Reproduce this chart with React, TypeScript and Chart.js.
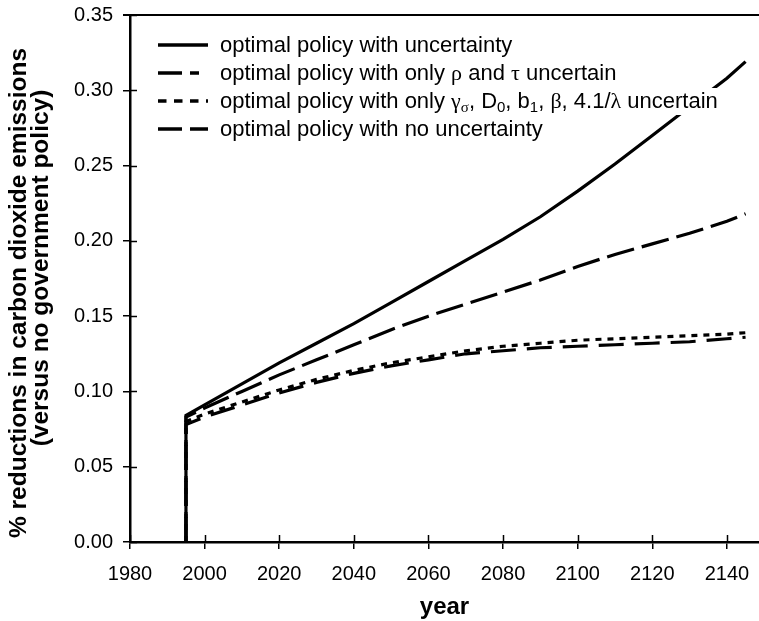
import React, { useEffect, useRef } from 'react';
import { Chart, registerables } from 'chart.js';

Chart.register(...registerables);

// ---- data ----
const years = [1995, 1995, 2000, 2010, 2020, 2030, 2040, 2050, 2060, 2070, 2080, 2090, 2100, 2110, 2120, 2130, 2140, 2145];
const withUncertainty = [0, 0.084, 0.091, 0.105, 0.119, 0.132, 0.145, 0.159, 0.173, 0.187, 0.201, 0.216, 0.233, 0.251, 0.270, 0.289, 0.308, 0.319];
const onlyRhoTau = [0, 0.083, 0.089, 0.100, 0.111, 0.121, 0.131, 0.141, 0.150, 0.158, 0.166, 0.174, 0.183, 0.191, 0.198, 0.205, 0.213, 0.218];
const onlyGammaEtc = [0, 0.080, 0.085, 0.093, 0.101, 0.108, 0.114, 0.119, 0.123, 0.127, 0.130, 0.132, 0.134, 0.135, 0.136, 0.137, 0.138, 0.139];
const noUncertainty = [0, 0.078, 0.083, 0.091, 0.099, 0.106, 0.112, 0.117, 0.121, 0.125, 0.127, 0.129, 0.130, 0.131, 0.132, 0.133, 0.135, 0.136];

// "_" marks the next character as a subscript
const seriesLabels = [
  'optimal policy with uncertainty',
  'optimal policy with only ρ and τ uncertain',
  'optimal policy with only γ_σ, D_0, b_1, β, 4.1/λ uncertain',
  'optimal policy with no uncertainty',
];
const xTicks = [1980, 2000, 2020, 2040, 2060, 2080, 2100, 2120, 2140];
const yTicks = [0, 0.05, 0.1, 0.15, 0.2, 0.25, 0.3, 0.35];
const xTitle = 'year';
const yTitle = ['% reductions in carbon dioxide emissions', '(versus no government policy)'];

const SANS = '"Liberation Sans", Arial, Helvetica, sans-serif';
const SERIF = '"Liberation Serif", "Times New Roman", serif';

const seriesDash: number[][] = [[], [28, 8], [6, 6], [25, 11]];
const legendDash: number[][] = [[], [24, 8, 9, 100], [8.5, 7.5], [24, 8]];

type Run = { t: string; sub: boolean; greek: boolean };
function parseRich(s: string): Run[] {
  const runs: Run[] = [];
  for (let i = 0; i < s.length; i++) {
    let ch = s[i];
    let sub = false;
    if (ch === '_' && i + 1 < s.length) { sub = true; i++; ch = s[i]; }
    const greek = /[\u0370-\u03ff]/.test(ch);
    const last = runs[runs.length - 1];
    if (last && last.sub === sub && last.greek === greek) last.t += ch;
    else runs.push({ t: ch, sub, greek });
  }
  return runs;
}
function runFont(r: Run, size: number) {
  const s = r.sub ? Math.round(size * 0.66) : size;
  return `${s}px ${r.greek ? SERIF : SANS}`;
}

const overlayPlugin = {
  id: 'overlay',
  afterDraw(chart: any) {
    const { ctx, chartArea: a, scales } = chart;
    const x = scales.x, y = scales.y;
    ctx.save();
    ctx.strokeStyle = '#000';
    // top frame line
    ctx.lineWidth = 2;
    ctx.beginPath();
    ctx.moveTo(a.left - 7, a.top);
    ctx.lineTo(a.right, a.top);
    ctx.stroke();
    // inner halves of tick marks
    ctx.lineWidth = 1.5;
    ctx.beginPath();
    xTicks.forEach((v) => {
      const px = Math.round(x.getPixelForValue(v)) + 0.5;
      ctx.moveTo(px, a.bottom);
      ctx.lineTo(px, a.bottom - 7);
    });
    yTicks.forEach((v) => {
      const py = Math.round(y.getPixelForValue(v)) + 0.5;
      ctx.moveTo(a.left, py);
      ctx.lineTo(a.left + 7, py);
    });
    ctx.stroke();

    // y axis title (two rotated lines)
    ctx.fillStyle = '#000';
    ctx.font = `bold 24.5px ${SANS}`;
    ctx.textAlign = 'center';
    ctx.textBaseline = 'middle';
    const titlePos = [[19, 293], [41, 268]];
    yTitle.forEach((line, i) => {
      ctx.save();
      ctx.translate(titlePos[i][0], titlePos[i][1]);
      ctx.rotate(-Math.PI / 2);
      ctx.fillText(line, 0, 0);
      ctx.restore();
    });

    // legend
    const size = 22;
    const rowY = [45, 73, 101, 129];
    const lx0 = 158, lx1 = 208, tx = 220;
    seriesLabels.forEach((lab, i) => {
      const runs = parseRich(lab);
      let w = 0;
      runs.forEach((r) => { ctx.font = runFont(r, size); w += ctx.measureText(r.t).width; });
      ctx.fillStyle = '#fff';
      ctx.fillRect(tx - 2, rowY[i] - 13, w + 4, 27);
      ctx.fillStyle = '#000';
      ctx.textBaseline = 'middle';
      ctx.textAlign = 'left';
      let cx = tx;
      runs.forEach((r) => {
        ctx.font = runFont(r, size);
        ctx.fillText(r.t, cx, rowY[i] + 1 + (r.sub ? 6 : 0));
        cx += ctx.measureText(r.t).width;
      });
      ctx.lineWidth = 3.5;
      ctx.setLineDash(legendDash[i]);
      ctx.beginPath();
      ctx.moveTo(lx0, rowY[i]);
      ctx.lineTo(lx1, rowY[i]);
      ctx.stroke();
      ctx.setLineDash([]);
    });
    ctx.restore();
  },
};

export default function App() {
  const ref = useRef<HTMLCanvasElement | null>(null);
  useEffect(() => {
    if (!ref.current) return;
    const seriesValues = [withUncertainty, onlyRhoTau, onlyGammaEtc, noUncertainty];
    const chart = new Chart(ref.current, {
      type: 'line',
      data: {
        datasets: seriesValues.map((vals, i) => ({
          label: seriesLabels[i].replace(/_/g, ''),
          data: years.map((yr, k) => ({ x: yr, y: vals[k] })),
          borderColor: '#000',
          borderWidth: 3.2,
          borderDash: seriesDash[i],
          pointRadius: 0,
          tension: 0,
          fill: false,
        })),
      },
      options: {
        responsive: false,
        animation: false,
        devicePixelRatio: 1,
        layout: { padding: { top: 15, left: 0, right: 0, bottom: 0 } },
        plugins: {
          legend: { display: false },
          tooltip: { enabled: false },
        },
        scales: {
          x: {
            type: 'linear',
            min: 1980,
            max: 2148.6,
            afterBuildTicks: (s: any) => { s.ticks = xTicks.map((v) => ({ value: v })); },
            afterFit: (s: any) => { s.height = 79; s.paddingLeft = 0; s.paddingRight = 0; },
            ticks: {
              font: { family: SANS, size: 20 },
              color: '#000',
              padding: 13.5,
              maxRotation: 0,
              autoSkip: false,
              callback: (v: any) => String(v),
            },
            grid: { drawOnChartArea: false, tickLength: 7, color: '#000', lineWidth: 1.5 },
            border: { color: '#000', width: 2.5 },
            title: {
              display: true,
              text: xTitle,
              color: '#000',
              font: { family: SANS, size: 24, weight: 'bold', lineHeight: 1 },
              padding: { top: 0, bottom: 2 },
            },
          },
          y: {
            type: 'linear',
            min: 0,
            max: 0.35,
            afterBuildTicks: (s: any) => { s.ticks = yTicks.map((v) => ({ value: v })); },
            afterFit: (s: any) => { s.width = 130; s.paddingTop = 0; s.paddingBottom = 0; },
            ticks: {
              font: { family: SANS, size: 20 },
              color: '#000',
              padding: 10,
              autoSkip: false,
              callback: (v: any) => Number(v).toFixed(2),
            },
            grid: { drawOnChartArea: false, tickLength: 7, color: '#000', lineWidth: 1.5 },
            border: { color: '#000', width: 2.5 },
            title: { display: false },
          },
        },
      },
      plugins: [overlayPlugin],
    } as any);
    return () => chart.destroy();
  }, []);

  return (
    <div style={{ position: 'absolute', left: 0, top: 0, width: 759, height: 621, background: '#fff' }}>
      <canvas ref={ref} width={759} height={621} style={{ display: 'block', width: 759, height: 621 }} />
    </div>
  );
}
